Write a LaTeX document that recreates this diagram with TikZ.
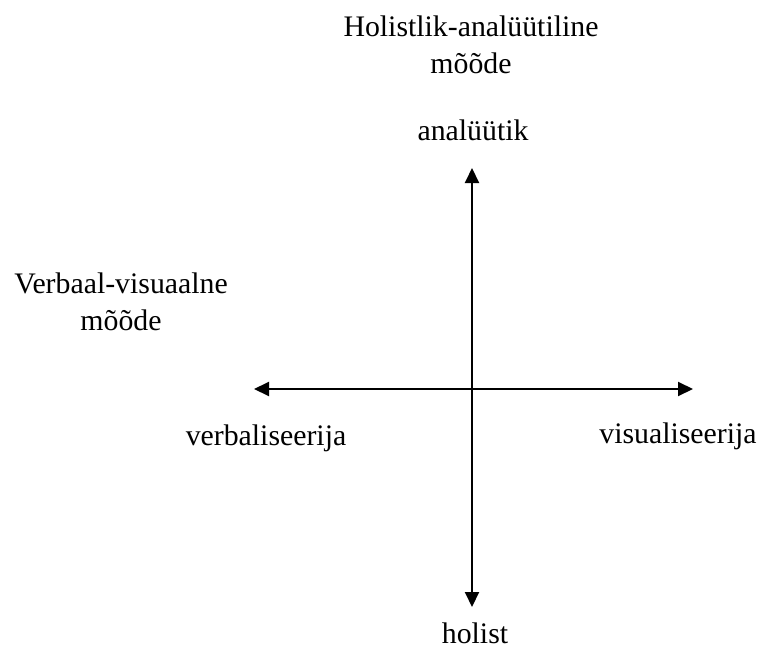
\documentclass[tikz,border=0pt]{standalone}
\usepackage{fontspec}
\setmainfont{Liberation Serif}
\usetikzlibrary{arrows.meta}
\begin{document}
\begin{tikzpicture}[x=1pt,y=-1pt,
  lbl/.style={anchor=base,inner sep=0pt,font=\fontsize{29.8}{37}\selectfont},
  axis/.style={line width=2pt,{Triangle[length=15pt,width=14pt]}-{Triangle[length=15pt,width=14pt]}}]
  \useasboundingbox (0,0) rectangle (762,650);
  % axis end points
  \coordinate (top) at (472,168);
  \coordinate (bottom) at (472,607);
  \coordinate (left) at (254,389);
  \coordinate (right) at (693,389);
  % headings of the two dimensions
  \node[lbl] (ha1) at (471,37) {Holistlik-analüütiline};
  \node[lbl] (ha2) at (471,74) {mõõde};
  \node[lbl] (vv1) at (121,293) {Verbaal-visuaalne};
  \node[lbl] (vv2) at (121,330) {mõõde};
  % pole labels
  \node[lbl] (analyytik) at (473,140) {analüütik};
  \node[lbl] (holist) at (475,643) {holist};
  \node[lbl] (verbal) at (266,445) {verbaliseerija};
  \node[lbl] (visual) at (678,443) {visualiseerija};
  % axes
  \draw[axis] (bottom) -- (top);
  \draw[axis] (left) -- (right);
\end{tikzpicture}
\end{document}
